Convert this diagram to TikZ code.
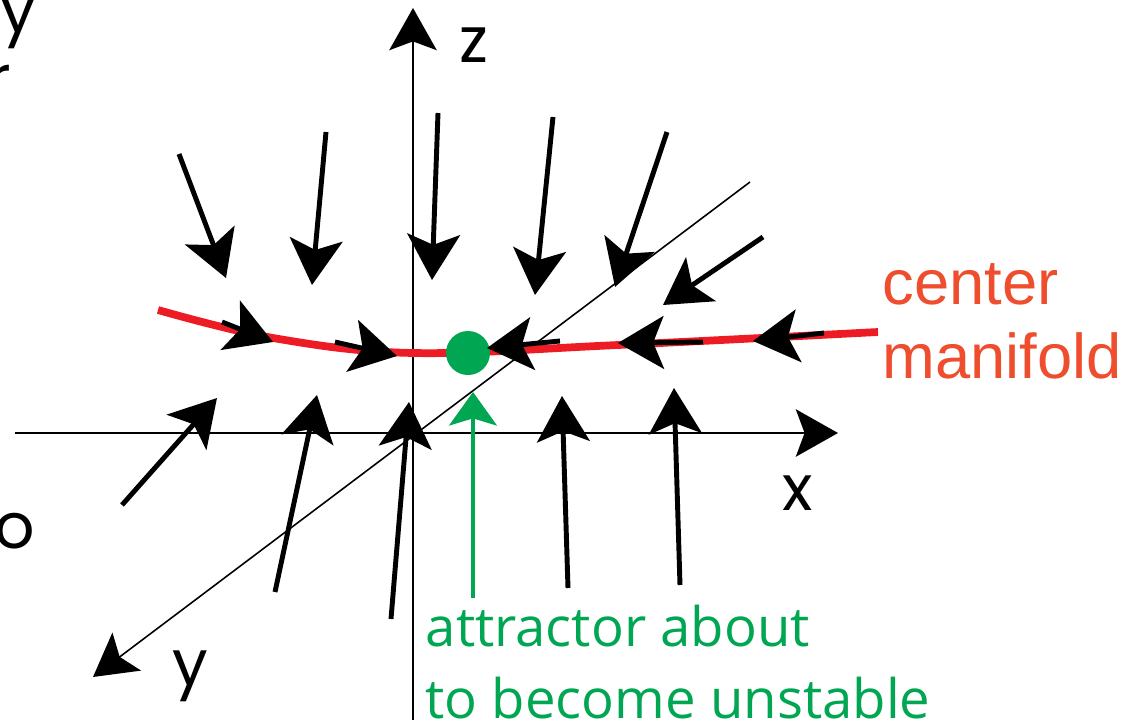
\documentclass[tikz,border=0pt]{standalone}
\usepackage{fontspec}
\usetikzlibrary{arrows.meta}
\newfontfamily\axisfont{Poppins}
\newfontfamily\manifont{Liberation Sans}
\newfontfamily\notefont{Open Sans}
\definecolor{manired}{RGB}{237,28,36}
\definecolor{manitext}{RGB}{238,77,46}
\definecolor{attgreen}{RGB}{0,166,81}
\tikzset{
  axis/.style={line width=0.45pt, -{Stealth[length=12pt,width=13.5pt,inset=2.5pt]}},
  flow/.style={line width=1.4pt, -{Stealth[length=13pt,width=15pt,inset=3pt]}},
  axislabel/.style={inner sep=0pt, anchor=base west, font=\fontsize{18}{20}\axisfont}
}
\begin{document}
\begin{tikzpicture}[x=0.01cm, y=-0.01cm]
    \useasboundingbox (0,0) rectangle (1132,727);
    % cut-off letters at the left edge
    \node[axislabel, anchor=base east] (cuty) at (37,32) {y};
    \node[axislabel, anchor=base east] (cutr) at (12,100) {r};
    \node[axislabel, anchor=base east] (cuto) at (36,548) {o};
    % axes
    \draw[axis] (413,720) -- (413,8);
    \draw[axis] (15,433) -- (838,433);
    \draw[axis] (750,182) -- (93,677);
    \node[axislabel] (zlab) at (459,62) {z};
    \node[axislabel] (xlab) at (782,510) {x};
    \node[axislabel] (ylab) at (172,685) {y};
    % center manifold
    \draw[manired, line width=2.2pt] plot[smooth, tension=0.6]
        coordinates {(158,310) (273,338) (413,353) (618,345) (878,332)};
    \node[manitext, inner sep=0pt, anchor=base west, align=left,
          font=\fontsize{18}{20.8}\manifont] (mani) at (882,378) {center\\manifold};
    % attractor
    \fill[attgreen] (468,353) circle (22);
    \draw[attgreen, line width=1.4pt, -{Stealth[length=9.5pt,width=13.5pt,inset=2pt]}]
        (473,598) -- (473,392);
    \node[attgreen, inner sep=0pt, anchor=base west, align=left,
          font=\fontsize{15.5}{20.2}\notefont] (att) at (425,718) {attractor about\\to become unstable};
    % flow on the manifold
    \draw[flow] (222,322) -- (273,342);
    \draw[flow] (335,342) -- (397,356);
    \draw[flow] (560,341) -- (487,348);
    \draw[flow] (703,342) -- (618,343);
    \draw[flow] (824,333) -- (753,341);
    % flow from above
    \draw[flow] (179,154) -- (226,278);
    \draw[flow] (326,132) -- (312,285);
    \draw[flow] (438,113) -- (432,280);
    \draw[flow] (553,117) -- (535,295);
    \draw[flow] (667,132) -- (615,287);
    \draw[flow] (763,237) -- (663,305);
    % flow from below
    \draw[flow] (122,505) -- (217,398);
    \draw[flow] (275,592) -- (317,395);
    \draw[flow] (391,619) -- (409,402);
    \draw[flow] (568,588) -- (562,396);
    \draw[flow] (680,585) -- (674,388);
\end{tikzpicture}
\end{document}
